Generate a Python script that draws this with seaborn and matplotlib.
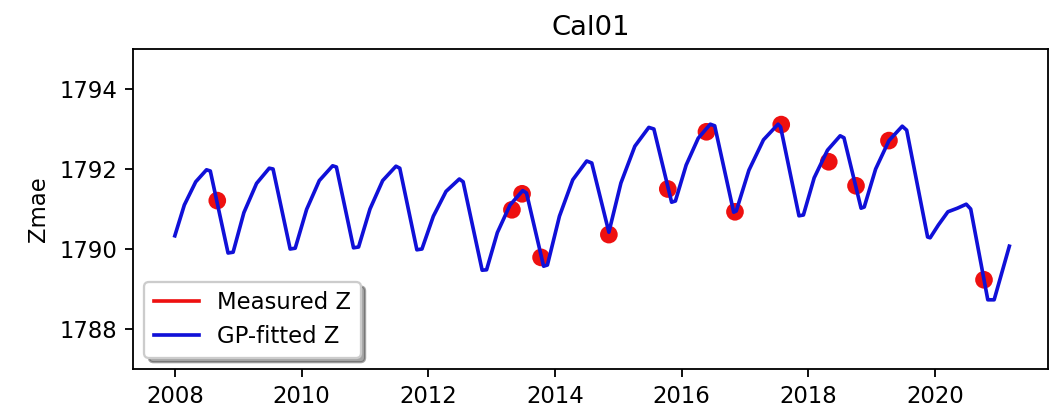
import matplotlib
matplotlib.use("Agg")
import matplotlib.pyplot as plt
from matplotlib.lines import Line2D
import seaborn as sns
import pandas as pd

# GP-fitted curve (decimal year, Z)
fit_year = [2008.00, 2008.15, 2008.33, 2008.50, 2008.56, 2008.84, 2008.92,
            2009.09, 2009.29, 2009.49, 2009.55, 2009.82, 2009.90,
            2010.08, 2010.28, 2010.49, 2010.55, 2010.82, 2010.90,
            2011.08, 2011.28, 2011.49, 2011.55, 2011.82, 2011.90,
            2012.08, 2012.28, 2012.49, 2012.55, 2012.85, 2012.92,
            2013.09, 2013.29, 2013.49, 2013.55, 2013.82, 2013.88,
            2014.07, 2014.28, 2014.50, 2014.58, 2014.85,
            2015.04, 2015.26, 2015.48, 2015.56, 2015.84, 2015.90,
            2016.07, 2016.26, 2016.45, 2016.52, 2016.82, 2016.86,
            2017.06, 2017.29, 2017.52, 2017.56, 2017.85, 2017.92,
            2018.09, 2018.30, 2018.50, 2018.56, 2018.83, 2018.88,
            2019.06, 2019.27, 2019.48, 2019.55, 2019.88, 2019.92,
            2020.05, 2020.20, 2020.35, 2020.49, 2020.56, 2020.83, 2020.93, 2021.17]
fit_z = [1790.33, 1791.10, 1791.68, 1791.98, 1791.95, 1789.90, 1789.92,
         1790.91, 1791.64, 1792.02, 1792.00, 1790.00, 1790.02,
         1790.99, 1791.71, 1792.08, 1792.05, 1790.03, 1790.05,
         1791.00, 1791.71, 1792.07, 1792.02, 1789.98, 1790.00,
         1790.82, 1791.44, 1791.75, 1791.68, 1789.47, 1789.48,
         1790.41, 1791.10, 1791.46, 1791.40, 1789.57, 1789.60,
         1790.82, 1791.73, 1792.20, 1792.15, 1790.42,
         1791.65, 1792.57, 1793.04, 1793.00, 1791.17, 1791.20,
         1792.10, 1792.77, 1793.12, 1793.08, 1790.92, 1790.95,
         1791.97, 1792.73, 1793.12, 1793.05, 1790.83, 1790.85,
         1791.78, 1792.47, 1792.83, 1792.78, 1791.02, 1791.05,
         1792.00, 1792.71, 1793.07, 1792.97, 1790.30, 1790.28,
         1790.60, 1790.93, 1791.02, 1791.12, 1791.00, 1788.73, 1788.73, 1790.07]

# Measured points
meas_year = [2008.67, 2013.32, 2013.48, 2013.78, 2014.85, 2015.78, 2016.39,
             2016.84, 2017.57, 2018.32, 2018.75, 2019.27, 2020.77]
meas_z = [1791.21, 1790.98, 1791.38, 1789.79, 1790.36, 1791.50, 1792.93,
          1790.93, 1793.11, 1792.18, 1791.58, 1792.71, 1789.23]

title = "Cal01"
ylabel = "Zmae"
labels = ["Measured Z", "GP-fitted Z"]
xticks = [2008, 2010, 2012, 2014, 2016, 2018, 2020]
yticks = [1788, 1790, 1792, 1794]

line_color = "#1010d8"
dot_color = "#ee1010"

dpi = 164.2
fig = plt.figure(figsize=(1051 / dpi, 411 / dpi), dpi=dpi)
ax = fig.add_axes([133 / 1051, 1 - 369 / 411, (1048 - 133) / 1051, (369 - 49) / 411])

df_fit = pd.DataFrame({"year": fit_year, "z": fit_z})
df_meas = pd.DataFrame({"year": meas_year, "z": meas_z})

sns.scatterplot(data=df_meas, x="year", y="z", ax=ax, color=dot_color, s=60,
                edgecolor="none", linewidth=0, legend=False, zorder=2)
sns.lineplot(data=df_fit, x="year", y="z", ax=ax, color=line_color, linewidth=1.6,
             legend=False, zorder=3)

ax.set_xlim(2007.34, 2021.78)
ax.set_ylim(1787, 1795)
ax.set_xticks(xticks)
ax.set_xticklabels([str(t) for t in xticks])
ax.set_yticks(yticks)
ax.set_yticklabels([str(t) for t in yticks])
ax.set_xlabel("")
ax.set_ylabel(ylabel)
ax.set_title(title)

handles = [Line2D([], [], color=dot_color, linewidth=1.6),
           Line2D([], [], color=line_color, linewidth=1.6)]
ax.legend(handles=handles, labels=labels, loc="lower left", shadow=True)

fig.savefig("out.png", dpi=dpi)
